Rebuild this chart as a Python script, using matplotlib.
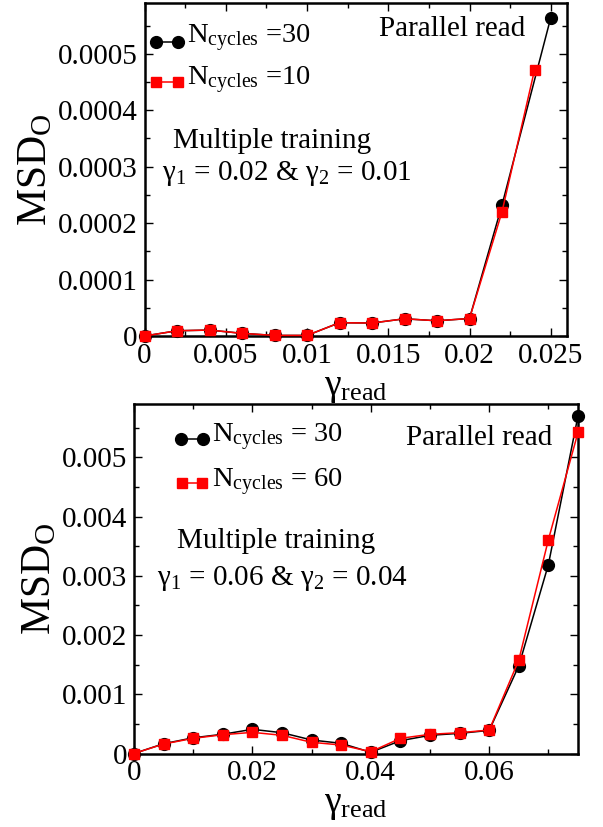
import matplotlib
matplotlib.use("Agg")
import matplotlib.pyplot as plt
from matplotlib.lines import Line2D
from matplotlib.ticker import MultipleLocator, FuncFormatter

plt.rcParams.update({
    "font.family": ["Liberation Serif", "DejaVu Serif"],
    "mathtext.fontset": "custom",
    "mathtext.rm": "Liberation Serif",
    "mathtext.it": "Liberation Serif:italic",
    "mathtext.bf": "Liberation Serif:bold",
    "mathtext.default": "rm",
})

# ---- upper panel: multiple training, gamma_1 = 0.02 & gamma_2 = 0.01 ----
gread_top_30 = [0, 0.002, 0.004, 0.006, 0.008, 0.010, 0.012, 0.014, 0.016,
                0.018, 0.020, 0.022, 0.025]
msd_top_30 = [0, 9.3e-6, 1.05e-5, 4.7e-6, 1.0e-6, 1.0e-6, 2.35e-5, 2.3e-5,
              3.05e-5, 2.7e-5, 3.1e-5, 2.32e-4, 5.64e-4]
gread_top_10 = [0, 0.002, 0.004, 0.006, 0.008, 0.010, 0.012, 0.014, 0.016,
                0.018, 0.020, 0.022, 0.024]
msd_top_10 = [0, 9.3e-6, 1.05e-5, 4.7e-6, 1.0e-6, 1.0e-6, 2.35e-5, 2.3e-5,
              3.05e-5, 2.7e-5, 3.1e-5, 2.20e-4, 4.71e-4]
labels_top = [r"$N_{cycles}$ =30", r"$N_{cycles}$ =10"]

# ---- lower panel: multiple training, gamma_1 = 0.06 & gamma_2 = 0.04 ----
gread_bot = [0, 0.005, 0.010, 0.015, 0.020, 0.025, 0.030, 0.035, 0.040,
             0.045, 0.050, 0.055, 0.060, 0.065, 0.070, 0.075]
msd_bot_30 = [0, 1.65e-4, 2.65e-4, 3.25e-4, 4.08e-4, 3.51e-4, 2.28e-4, 1.72e-4,
              2.0e-5, 2.16e-4, 3.07e-4, 3.4e-4, 3.9e-4, 1.48e-3, 3.19e-3, 5.70e-3]
msd_bot_60 = [0, 1.6e-4, 2.56e-4, 3.17e-4, 3.57e-4, 3.07e-4, 1.89e-4, 1.43e-4,
              3.0e-5, 2.56e-4, 3.24e-4, 3.51e-4, 3.96e-4, 1.577e-3, 3.61e-3, 5.42e-3]
labels_bot = [r"$N_{cycles}$ = 30", r"$N_{cycles}$ = 60"]

W, H = 603, 827
fig = plt.figure(figsize=(W / 100, H / 100), dpi=100)

BLACK = dict(color="black", marker="o", ms=8.5)
RED = dict(color="red", marker="s", ms=7.5)


def px_axes(left, top, right, bottom):
    return fig.add_axes([left / W, 1 - bottom / H, (right - left) / W, (bottom - top) / H])


def style(ax, xmaj, xmin, ymaj, ymin, xlim, ylim):
    ax.set_xlim(*xlim)
    ax.set_ylim(*ylim)
    ax.xaxis.set_major_locator(MultipleLocator(xmaj))
    ax.xaxis.set_minor_locator(MultipleLocator(xmin))
    ax.yaxis.set_major_locator(MultipleLocator(ymaj))
    ax.yaxis.set_minor_locator(MultipleLocator(ymin))
    fmt = FuncFormatter(lambda v, p: "%g" % round(v, 8))
    ax.xaxis.set_major_formatter(fmt)
    ax.yaxis.set_major_formatter(fmt)
    ax.tick_params(which="both", direction="in", top=True, right=True,
                   width=1.0, labelsize=21, pad=5)
    ax.tick_params(which="major", length=6)
    ax.tick_params(which="minor", length=3.6)
    for s in ax.spines.values():
        s.set_linewidth(1.8)
    ax.set_xlabel(r"$\gamma_{read}$", fontsize=27, labelpad=1)
    ax.set_ylabel(r"$MSD_O$", fontsize=30, labelpad=2)


def draw(ax, x1, y1, x2, y2):
    ax.plot(x1, y1, lw=1.1, clip_on=False, zorder=3, **BLACK)
    ax.plot(x2, y2, lw=1.1, clip_on=False, zorder=4, **RED)


def ftext(x, y, s, ha="left", size=21):
    fig.text(x / W, 1 - y / H, s, ha=ha, va="baseline", fontsize=size)


def key(x0, x1, y, props, label, tx, ty):
    fig.add_artist(Line2D([x0 / W, x1 / W], [1 - y / H] * 2, lw=1.1,
                          transform=fig.transFigure, **props))
    ftext(tx, ty, label, size=20.5)


# upper panel
ax1 = px_axes(144.5, 3, 567, 336)
draw(ax1, gread_top_30, msd_top_30, gread_top_10, msd_top_10)
style(ax1, 0.005, 0.0025, 0.0001, 0.00005, (0, 0.026), (0, 0.00059))
key(156, 177.7, 42.3, BLACK, labels_top[0], 187, 43)
key(156, 177.7, 81.7, RED, labels_top[1], 187, 85)

# lower panel
ax2 = px_axes(134, 404, 578, 753.5)
draw(ax2, gread_bot, msd_bot_30, gread_bot, msd_bot_60)
style(ax2, 0.02, 0.01, 0.001, 0.0005, (0, 0.075), (0, 0.0059))
key(181, 203, 439, BLACK, labels_bot[0], 212, 441.7)
key(182, 202, 483.3, RED, labels_bot[1], 212, 487)

ftext(525, 36, "Parallel read", ha="right")
ftext(173, 148, "Multiple training")
ftext(162, 180, r"$\gamma_1$ = 0.02 & $\gamma_2$ = 0.01")

ftext(552, 445, "Parallel read", ha="right")
ftext(177, 548, "Multiple training")
ftext(157, 585, r"$\gamma_1$ = 0.06 & $\gamma_2$ = 0.04")

fig.savefig("out.png", dpi=100)
